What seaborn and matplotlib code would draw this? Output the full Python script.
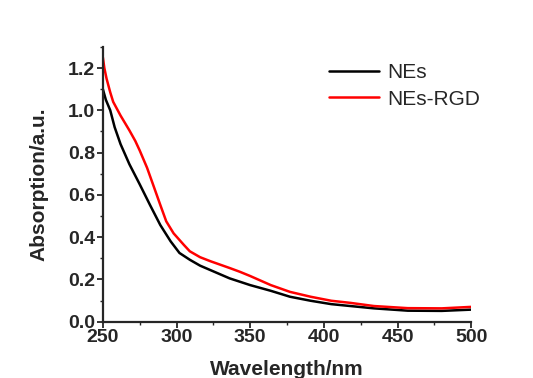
import matplotlib
matplotlib.use("Agg")
import matplotlib.pyplot as plt
import seaborn as sns
import pandas as pd
from matplotlib.ticker import MultipleLocator

sns.set_style("ticks")
plt.rcParams['font.family'] = ['Liberation Sans', 'DejaVu Sans']

wl_nes = [250, 252, 255, 258, 262, 268, 275, 282, 289, 296, 302, 309, 316, 323, 336,
          350, 364, 377, 391, 405, 418, 434, 457, 480, 500]
abs_nes = [1.10, 1.05, 1.00, 0.92, 0.84, 0.745, 0.65, 0.552, 0.457, 0.38, 0.325, 0.293,
           0.265, 0.244, 0.205, 0.173, 0.146, 0.118, 0.099, 0.083, 0.074, 0.063,
           0.052, 0.051, 0.057]
wl_rgd = [250, 251, 252.5, 255, 257, 262, 268, 272, 275, 280, 284, 289, 293, 298, 305, 309, 316,
          323, 336, 343, 350, 364, 377, 391, 405, 418, 434, 457, 480, 500]
abs_rgd = [1.25, 1.20, 1.15, 1.085, 1.04, 0.975, 0.905, 0.855, 0.81, 0.728, 0.65, 0.552, 0.475, 0.418,
           0.363, 0.333, 0.305, 0.286, 0.254, 0.236, 0.216, 0.173, 0.141, 0.118,
           0.099, 0.089, 0.074, 0.064, 0.063, 0.07]
series = ["NEs", "NEs-RGD"]
colors = ["#000000", "#ff0000"]

df = pd.concat([
    pd.DataFrame({"wl": wl_nes, "abs": abs_nes, "sample": series[0]}),
    pd.DataFrame({"wl": wl_rgd, "abs": abs_rgd, "sample": series[1]}),
])

fig = plt.figure(figsize=(5.33, 3.78), dpi=100)
ax = fig.add_axes([0.193, 0.149, 0.691, 0.727])
sns.lineplot(data=df, x="wl", y="abs", hue="sample", palette=colors,
             linewidth=1.8, ax=ax, sort=True, estimator=None)

ax.set_xlim(250, 500)
ax.set_ylim(0, 1.3)
ax.xaxis.set_major_locator(MultipleLocator(50))
ax.xaxis.set_minor_locator(MultipleLocator(25))
ax.yaxis.set_major_locator(MultipleLocator(0.2))
ax.yaxis.set_minor_locator(MultipleLocator(0.1))
ax.yaxis.set_major_formatter(matplotlib.ticker.FormatStrFormatter('%.1f'))
for s in ["top", "right"]:
    ax.spines[s].set_visible(False)
for s in ["left", "bottom"]:
    ax.spines[s].set_linewidth(1.6)
ax.tick_params(which="major", direction="out", length=4, width=1.3, labelsize=14, pad=1.5)
ax.tick_params(which="minor", direction="out", length=2.5, width=1.0)
for lab in ax.get_xticklabels() + ax.get_yticklabels():
    lab.set_fontweight("bold")
ax.set_xlabel("Wavelength/nm", fontsize=15, fontweight="bold", labelpad=10)
ax.set_ylabel("Absorption/a.u.", fontsize=15, fontweight="bold", labelpad=14)

leg = ax.legend(title=None, frameon=False, fontsize=15, loc="upper left",
                bbox_to_anchor=(0.59, 0.97), handlelength=2.4, handletextpad=0.4,
                labelspacing=0.35, borderaxespad=0)
for l in leg.get_lines():
    l.set_linewidth(1.8)

fig.savefig("out.png", dpi=100)
